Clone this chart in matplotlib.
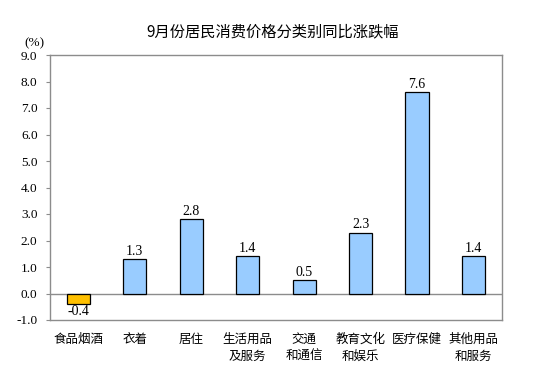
import matplotlib
matplotlib.use("Agg")
import matplotlib.pyplot as plt
import numpy as np

categories = ["食品烟酒", "衣着", "居住", "生活用品\n及服务", "交通\n和通信", "教育文化\n和娱乐", "医疗保健", "其他用品\n和服务"]
values = [-0.4, 1.3, 2.8, 1.4, 0.5, 2.3, 7.6, 1.4]
yticks = [-1.0, 0.0, 1.0, 2.0, 3.0, 4.0, 5.0, 6.0, 7.0, 8.0, 9.0]
title = "9月份居民消费价格分类别同比涨跌幅"

cjk = ["Noto Sans CJK SC", "DejaVu Sans"]
serif = ["Liberation Serif", "DejaVu Serif"]

fig = plt.figure(figsize=(5.53, 3.84), dpi=100)
ax = fig.add_axes([50/553, 1-320/384, 451.7/553, 265/384])

x = np.arange(len(categories))
colors = ["#FFC000" if v < 0 else "#99CCFF" for v in values]
ax.bar(x, values, width=0.41, color=colors, edgecolor="black", linewidth=0.9, zorder=3)
ax.axhline(0, color="#8c8c8c", linewidth=1, zorder=2)

for xi, v in zip(x, values):
    if v >= 0:
        ax.text(xi, v + 0.04, f"{v:.1f}", ha="center", va="bottom", fontsize=10, family=serif)
    else:
        ax.text(xi, v - 0.03, f"{v:.1f}", ha="center", va="top", fontsize=10, family=serif)

ax.set_xlim(-0.5, len(categories) - 0.5)
ax.set_ylim(-1.0, 9.0)
ax.set_yticks(yticks)
ax.set_yticklabels([f"{t:.1f}" for t in yticks], family=serif, fontsize=9.5)
ax.tick_params(axis="y", direction="out", length=3, color="#8c8c8c", pad=6)
ax.set_xticks(x)
ax.set_xticklabels(categories, family=cjk, fontsize=9, linespacing=1.4, va="top")
ax.tick_params(axis="x", length=0, pad=9)
for s in ax.spines.values():
    s.set_color("#8c8c8c")
    s.set_linewidth(1)

fig.text(273/553, 1-32/384, title, ha="center", va="center", family=cjk, fontsize=11)
fig.text(34/553, 1-43/384, "(%)", ha="center", va="center", family=serif, fontsize=9.5)

fig.savefig("out.png", dpi=100)
